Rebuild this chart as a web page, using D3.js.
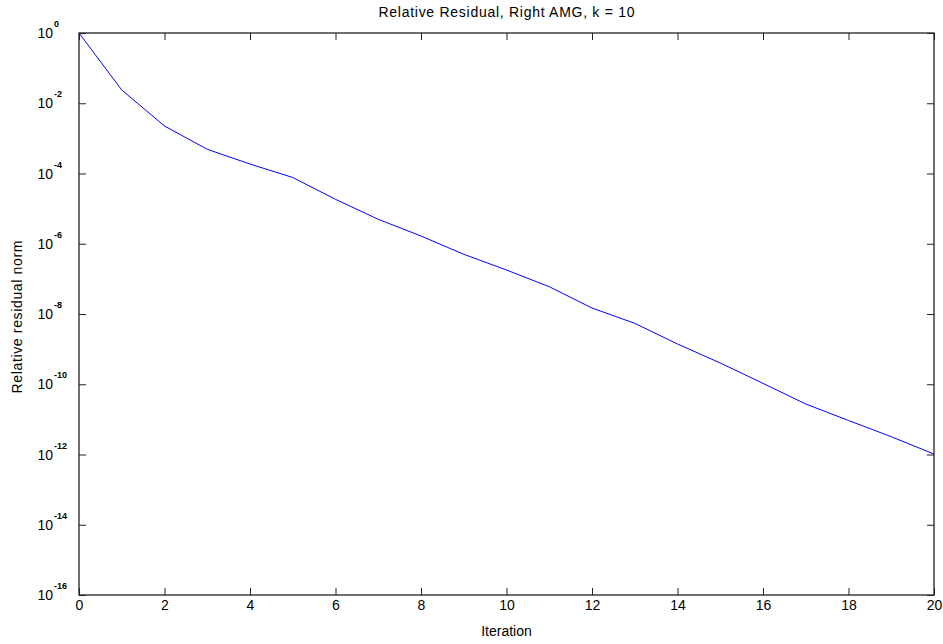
<!DOCTYPE html>
<html>
<head>
<meta charset="utf-8">
<script src="https://cdn.jsdelivr.net/npm/d3@7"></script>
<style>
  body { margin: 0; background: #fff; }
  text { font-family: "Liberation Sans", Arial, sans-serif; fill: #000; }
</style>
</head>
<body>
<svg width="943" height="644"></svg>
<script>
var iterations = [0, 1, 2, 3, 4, 5, 6, 7, 8, 9, 10, 11, 12, 13, 14, 15, 16, 17, 18, 19, 20];
var residuals = [1, 2.38e-2, 2.25e-3, 4.89e-4, 1.86e-4, 7.69e-5, 1.84e-5, 4.97e-6, 1.66e-6,
  5.01e-7, 1.79e-7, 5.98e-8, 1.48e-8, 5.43e-9, 1.40e-9, 4.03e-10, 1.06e-10, 2.74e-11,
  9.29e-12, 3.21e-12, 1.03e-12];
var xTicks = [0, 2, 4, 6, 8, 10, 12, 14, 16, 18, 20];
var yExponents = [0, -2, -4, -6, -8, -10, -12, -14, -16];

var margin = {top: 33, right: 9, bottom: 49, left: 79};
var svg = d3.select('svg');
var width = 943 - margin.left - margin.right;
var height = 644 - margin.top - margin.bottom;

var x = d3.scaleLinear().domain([0, 20]).range([0, width]);
var y = d3.scaleLog().domain([1e-16, 1]).range([height, 0]);

var g = svg.append('g')
  .attr('transform', 'translate(' + margin.left + ',' + margin.top + ')');

// the line
var line = d3.line()
  .x(function(d) { return x(d[0]); })
  .y(function(d) { return y(d[1]); });

g.append('path')
  .datum(d3.zip(iterations, residuals))
  .attr('fill', 'none')
  .attr('stroke', '#0000ff')
  .attr('stroke-width', 1)
  .attr('d', line);

// box
g.append('rect')
  .attr('width', width)
  .attr('height', height)
  .attr('fill', 'none')
  .attr('stroke', '#222')
  .attr('stroke-width', 1.3);

// x ticks, bottom and top, pointing inward
var xAxis = g.append('g')
  .attr('transform', 'translate(0,' + height + ')')
  .call(d3.axisBottom(x).tickValues(xTicks).tickSize(-7).tickPadding(5).tickFormat(d3.format('d')));
var xAxisTop = g.append('g')
  .call(d3.axisTop(x).tickValues(xTicks).tickSize(-7).tickFormat(''));

// y ticks, left and right
var yVals = yExponents.map(function(e) { return Math.pow(10, e); });
var yAxis = g.append('g')
  .call(d3.axisLeft(y).tickValues(yVals).tickSize(-7).tickFormat(''));
var yAxisRight = g.append('g')
  .attr('transform', 'translate(' + width + ',0)')
  .call(d3.axisRight(y).tickValues(yVals).tickSize(-7).tickFormat(''));

[xAxis, xAxisTop, yAxis, yAxisRight].forEach(function(a) {
  a.select('.domain').remove();
  a.selectAll('line').attr('stroke', '#222');
});
xAxis.selectAll('text')
  .attr('font-size', 14)
  .attr('fill', '#222')
  .attr('font-family', '"Liberation Sans", Arial, sans-serif');

// y tick labels with superscript exponents
var yLabels = g.append('g');
yExponents.forEach(function(e) {
  yLabels.append('text')
    .attr('x', -26)
    .attr('y', y(Math.pow(10, e)) + 5)
    .attr('text-anchor', 'end')
    .attr('font-size', 14)
    .attr('fill', '#222')
    .text('10');
  yLabels.append('text')
    .attr('x', -25)
    .attr('y', y(Math.pow(10, e)) - 6)
    .attr('font-size', 9)
    .attr('font-weight', 'bold')
    .attr('fill', '#222')
    .text(e);
});

// title and axis labels
svg.append('text')
  .attr('x', margin.left + width / 2)
  .attr('y', 17)
  .attr('text-anchor', 'middle')
  .attr('font-size', 14)
  .attr('textLength', 256)
  .attr('lengthAdjust', 'spacing')
  .text('Relative Residual, Right AMG, k = 10');

svg.append('text')
  .attr('x', margin.left + width / 2)
  .attr('y', 636)
  .attr('text-anchor', 'middle')
  .attr('font-size', 14)
  .text('Iteration');

svg.append('text')
  .attr('transform', 'translate(22,' + 317 + ') rotate(-90)')
  .attr('text-anchor', 'middle')
  .attr('font-size', 14)
  .attr('textLength', 153)
  .attr('lengthAdjust', 'spacing')
  .text('Relative residual norm');
</script>
</body>
</html>
